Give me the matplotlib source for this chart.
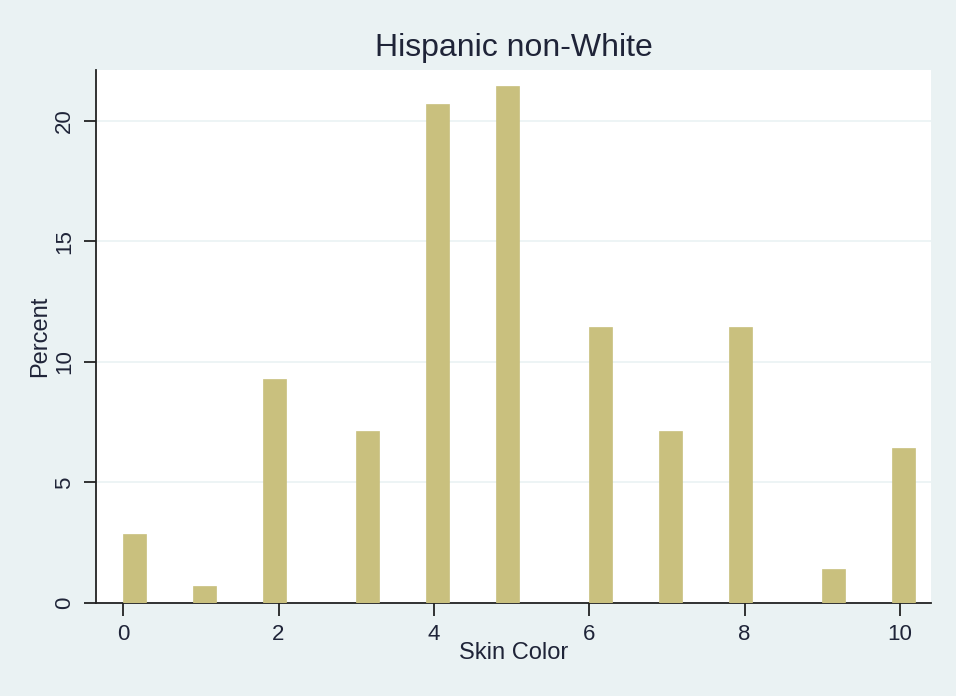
import matplotlib
matplotlib.use("Agg")
import matplotlib.pyplot as plt

# skin colour score and share of respondents (percent)
skin_color = [0, 1, 2, 3, 4, 5, 6, 7, 8, 9, 10]
percent = [2.86, 0.71, 9.29, 7.14, 20.71, 21.43, 11.43, 7.14, 11.43, 1.43, 6.43]
# left edges of the histogram bins holding each score
bin_left = [0.0, 0.9, 1.8, 3.0, 3.9, 4.8, 6.0, 6.9, 7.8, 9.0, 9.9]
bin_width = 0.29

x_ticks = [0, 2, 4, 6, 8, 10]
y_ticks = [0, 5, 10, 15, 20]

plt.rcParams['font.family'] = ['Liberation Sans', 'DejaVu Sans']
txt = '#1f2438'
bg = '#eaf2f3'

fig = plt.figure(figsize=(9.56, 6.96), dpi=100, facecolor=bg)
ax = fig.add_axes([0.1004, 0.1336, 0.8735, 0.7658])
ax.set_facecolor('white')

ax.bar(bin_left, percent, width=bin_width, align='edge',
       color='#c9c07e', edgecolor='#c9c07e', linewidth=0.5, zorder=3)

ax.set_xlim(-0.35, 10.4)
ax.set_ylim(0, 22.1)
ax.set_xticks(x_ticks)
ax.set_yticks(y_ticks)
ax.yaxis.grid(True, color=bg, linewidth=1.2, zorder=0)

for s in ['top', 'right']:
    ax.spines[s].set_visible(False)
for s in ['left', 'bottom']:
    ax.spines[s].set_color('#222222')
    ax.spines[s].set_linewidth(1.3)

ax.tick_params(axis='both', direction='out', length=9, width=1.3,
               color='#222222', labelsize=16, labelcolor=txt, pad=6)
for lab in ax.get_yticklabels():
    lab.set_rotation(90)
    lab.set_va('center')

ax.set_xlabel('Skin Color', fontsize=17, color=txt, labelpad=-2)
ax.set_ylabel('Percent', fontsize=17, color=txt, labelpad=2)
ax.set_title('Hispanic non-White', fontsize=23, color=txt, pad=10)

fig.savefig('out.png', dpi=100, facecolor=bg)
